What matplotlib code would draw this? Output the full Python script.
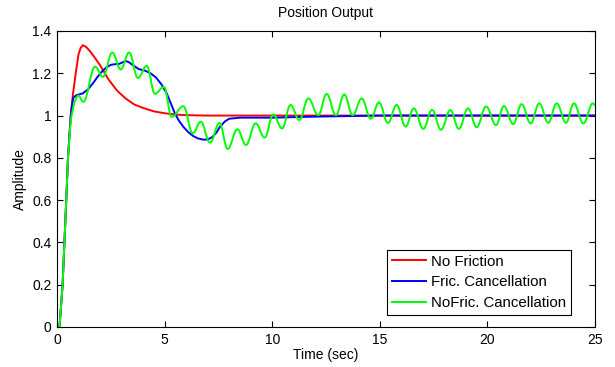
import matplotlib
matplotlib.use("Agg")
import matplotlib.pyplot as plt
from matplotlib.path import Path
from matplotlib.patches import PathPatch

# ---- data ----
t_red = [0, 0.12, 0.26, 0.345, 0.43, 0.51, 0.64, 0.74, 0.87, 1.0, 1.1, 1.2, 1.35, 1.53,
         1.75, 2.0, 2.4, 2.8, 3.2, 3.6, 4.0, 4.5, 5.0, 5.5, 6.0, 7.0, 8.0, 10.0, 15.0, 20.0, 25.0]
v_red = [0, 0.005, 0.2, 0.4, 0.6, 0.8, 1.0, 1.1, 1.2, 1.29, 1.32, 1.333, 1.325, 1.305,
         1.275, 1.238, 1.17, 1.117, 1.08, 1.052, 1.036, 1.02, 1.011, 1.005, 1.002, 1.0, 1.0, 1.0, 1.0, 1.0, 1.0]

t_blue = [0, 0.12, 0.26, 0.345, 0.43, 0.51, 0.64, 0.7, 0.76, 0.91, 1.2, 1.45, 1.65, 1.9, 2.1,
          2.3, 2.5, 2.7, 2.9, 3.05, 3.2, 3.35, 3.5, 3.8, 4.1, 4.35, 4.6, 4.85, 5.1, 5.3, 5.48,
          5.67, 5.87, 6.1, 6.33, 6.55, 6.8, 7.0, 7.2, 7.4, 7.57, 7.8, 8.0, 8.5, 10.0, 12.0,
          15.0, 20.0, 25.0]
v_blue = [0, 0.005, 0.2, 0.4, 0.6, 0.8, 1.0, 1.05, 1.085, 1.097, 1.105, 1.125, 1.15, 1.185, 1.21,
          1.228, 1.24, 1.243, 1.245, 1.252, 1.258, 1.252, 1.24, 1.22, 1.212, 1.2, 1.18, 1.148,
          1.105, 1.055, 1.01, 0.975, 0.947, 0.922, 0.903, 0.892, 0.886, 0.887, 0.897, 0.918,
          0.947, 0.972, 0.985, 0.99, 0.99, 0.995, 1.0, 1.0, 1.0]

# green: initial rise, then the successive peaks / troughs of the oscillation
t_green_rise = [0, 0.12, 0.26, 0.345, 0.43, 0.51, 0.64, 0.8]
v_green_rise = [0, 0.005, 0.2, 0.4, 0.6, 0.8, 0.98, 1.06]
t_green_ext = [0.99, 1.22, 1.77, 2.13, 2.57, 2.96, 3.35, 3.76, 4.17, 4.55, 4.97, 5.33, 5.87,
               6.31, 6.68, 7.11, 7.55, 7.93, 8.38, 8.78, 9.23, 9.65, 10.05, 10.46, 10.85, 11.26,
               11.68, 12.14, 12.53, 12.96, 13.35, 13.74, 14.16, 14.58, 14.96, 15.38, 15.78, 16.2,
               16.58, 17.02, 17.43, 17.84, 18.28, 18.67, 19.1, 19.5, 19.94, 20.4, 20.77, 21.2,
               21.59, 22.01, 22.41, 22.83, 23.22, 23.65, 24.02, 24.46, 24.9]
v_green_ext = [1.095, 1.065, 1.231, 1.183, 1.298, 1.218, 1.298, 1.178, 1.235, 1.103, 1.136, 0.994,
               1.044, 0.916, 0.971, 0.872, 0.965, 0.842, 0.935, 0.861, 0.963, 0.896, 1.005, 0.939,
               1.05, 0.979, 1.081, 1.002, 1.102, 1.002, 1.1, 1.002, 1.081, 0.985, 1.062, 0.965,
               1.05, 0.948, 1.034, 0.937, 1.027, 0.933, 1.026, 0.937, 1.034, 0.945, 1.043, 0.955,
               1.045, 0.96, 1.054, 0.963, 1.058, 0.966, 1.058, 0.966, 1.058, 0.963, 1.058]
t_green_end = [25.0]
v_green_end = [1.05]

labels = ["No Friction", "Fric. Cancellation", "NoFric. Cancellation"]
x_ticks = [0, 5, 10, 15, 20, 25]
y_ticks = [0, 0.2, 0.4, 0.6, 0.8, 1, 1.2, 1.4]
y_ticklabels = ["0", "0.2", "0.4", "0.6", "0.8", "1", "1.2", "1.4"]

plt.rcParams['font.family'] = ['Liberation Sans', 'DejaVu Sans']

fig = plt.figure(figsize=(6.15, 3.67), dpi=100)
ax = fig.add_axes([57 / 615, 1 - 327 / 367, 538 / 615, 296 / 367])

LW = 1.4
ax.plot(t_red, v_red, color="#ff0000", lw=LW, label=labels[0], solid_joinstyle="round", zorder=2)
ax.plot(t_blue, v_blue, color="#0000ff", lw=LW, label=labels[1], solid_joinstyle="round", zorder=2.1)

# green drawn as a smooth path through the read points (Bezier segments between extremes)
verts = [(t_green_rise[0], v_green_rise[0])]
codes = [Path.MOVETO]
for t, v in zip(t_green_rise[1:], v_green_rise[1:]):
    verts.append((t, v)); codes.append(Path.LINETO)
pts = list(zip(t_green_ext, v_green_ext)) + list(zip(t_green_end, v_green_end))
prev = (t_green_rise[-1], v_green_rise[-1])
first = True
for (t, v) in pts:
    d = (t - prev[0]) * 0.4
    if first:
        c1 = (prev[0] + d, prev[1] + (v - prev[1]) * 0.4)
        first = False
    else:
        c1 = (prev[0] + d, prev[1])
    c2 = (t - d, v)
    verts += [c1, c2, (t, v)]
    codes += [Path.CURVE4] * 3
    prev = (t, v)
ax.add_patch(PathPatch(Path(verts, codes), fill=False, edgecolor="#00ff00", lw=LW,
                       joinstyle="round", capstyle="round", zorder=2.2))
ax.plot([], [], color="#00ff00", lw=LW, label=labels[2])

ax.set_xlim(0, 25)
ax.set_ylim(0, 1.4)
ax.set_xticks(x_ticks)
ax.set_xticklabels([str(v) for v in x_ticks])
ax.set_yticks(y_ticks)
ax.set_yticklabels(y_ticklabels)
ax.tick_params(direction="in", length=4, width=0.8, top=True, right=True,
               labelsize=10, colors="black", pad=4)
for s in ax.spines.values():
    s.set_linewidth(0.8)
    s.set_color("black")

ax.set_title("Position Output", fontsize=10, pad=10)
ax.set_xlabel("Time (sec)", fontsize=10, labelpad=1)
ax.set_ylabel("Amplitude", fontsize=10, labelpad=4)

leg = ax.legend(loc="lower right", bbox_to_anchor=(0.9554, 0.04), fontsize=10.8,
                frameon=True, fancybox=False, edgecolor="black", framealpha=1,
                handlelength=2.3, handletextpad=0.3, borderpad=0.33, labelspacing=0.45,
                borderaxespad=0)
leg.get_frame().set_linewidth(0.8)
leg.set_zorder(5)

fig.savefig("out.png", dpi=100)
